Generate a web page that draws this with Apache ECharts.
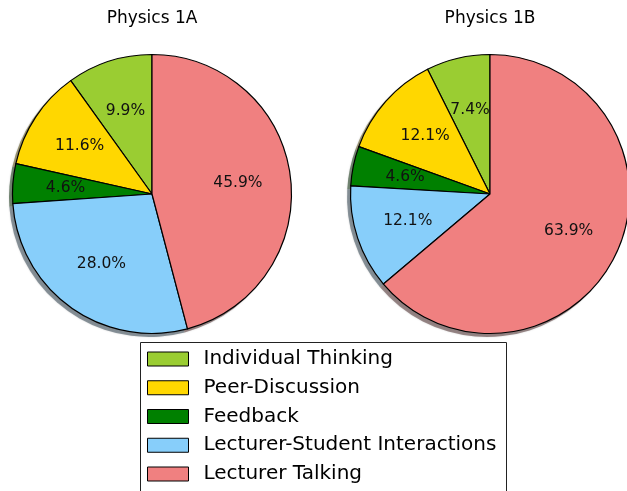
<!DOCTYPE html>
<html>
<head>
<meta charset="utf-8">
<script src="https://cdn.jsdelivr.net/npm/echarts@6/dist/echarts.min.js"></script>
<style>html,body{margin:0;padding:0;background:#fff;}#c{width:627px;height:491px;}</style>
</head>
<body>
<div id="c"></div>
<script>
const categories = ['Individual Thinking', 'Peer-Discussion', 'Feedback', 'Lecturer-Student Interactions', 'Lecturer Talking'];
const values1A = [9.9, 11.6, 4.6, 28.0, 45.9];
const values1B = [7.4, 12.1, 4.6, 12.1, 63.9];
const titles = ['Physics 1A', 'Physics 1B'];
const colors = ['#9ACD32', '#FFD700', '#008000', '#87CEFA', '#F08080'];

const FONT = 'DejaVu Sans';
const R = 139.5;
const pies = [
  { title: titles[0], values: values1A, cx: 152, cy: 194 },
  { title: titles[1], values: values1B, cx: 490, cy: 194 }
];

function shadowColor(hex) {
  const r = parseInt(hex.slice(1, 3), 16), g = parseInt(hex.slice(3, 5), 16), b = parseInt(hex.slice(5, 7), 16);
  return 'rgba(' + Math.round(r * 0.3) + ',' + Math.round(g * 0.3) + ',' + Math.round(b * 0.3) + ',0.5)';
}

const series = [];
pies.forEach(p => {
  series.push({
    type: 'pie', center: [p.cx, p.cy], radius: [0, R], startAngle: 90, clockwise: false,
    silent: true, z: 3, animation: false, label: { show: false }, labelLine: { show: false },
    emphasis: { disabled: true, scale: false },
    data: categories.map((n, i) => ({ name: n, value: p.values[i],
      itemStyle: { color: colors[i], borderColor: '#000', borderWidth: 1.2 } }))
  });
});
pies.forEach(p => {
  series.push({
    type: 'pie', center: [p.cx - 3, p.cy + 3], radius: [0, R + 0.5], startAngle: 90, clockwise: false,
    silent: true, z: 1, animation: false, label: { show: false }, labelLine: { show: false },
    legendHoverLink: false, emphasis: { disabled: true, scale: false },
    data: categories.map((n, i) => ({ name: n, value: p.values[i],
      itemStyle: { color: shadowColor(colors[i]), borderWidth: 0, shadowBlur: 2, shadowColor: 'rgba(0,0,0,0.3)' } }))
  });
});
pies.forEach(p => {
  series.push({
    type: 'pie', center: [p.cx, p.cy], radius: [0.2 * R, R], startAngle: 90, clockwise: false,
    silent: true, z: 5, animation: false, avoidLabelOverlap: false, legendHoverLink: false,
    emphasis: { disabled: true, scale: false },
    label: { show: true, position: 'inside', color: '#111', fontFamily: FONT, fontSize: 15.5,
      formatter: d => d.value.toFixed(1) + '%' },
    labelLine: { show: false },
    data: categories.map((n, i) => ({ name: n, value: p.values[i],
      itemStyle: { color: 'rgba(0,0,0,0)', borderWidth: 0 } }))
  });
});

const chart = echarts.init(document.getElementById('c'), null, { renderer: 'canvas' });
chart.setOption({
  animation: false,
  backgroundColor: '#fff',
  title: pies.map(p => ({ text: p.title, left: p.cx, top: 10, textAlign: 'center', padding: 0,
    textStyle: { fontFamily: FONT, fontSize: 17, fontWeight: 'normal', color: '#000' } })),
  legend: {
    data: categories, orient: 'vertical', left: 147, top: 349, padding: 0,
    itemWidth: 41, itemHeight: 14, itemGap: 8.75, icon: 'rect', selectedMode: false,
    itemStyle: { borderColor: '#000', borderWidth: 1 },
    textStyle: { fontFamily: FONT, fontSize: 20, color: '#000', lineHeight: 20, padding: [0, 0, 0, 10] }
  },
  graphic: [{ type: 'rect', shape: { x: 140.5, y: 342.5, width: 366, height: 200 },
    style: { fill: 'none', stroke: '#222', lineWidth: 1 }, z: 0, silent: true }],
  series: series
});
</script>
</body>
</html>
